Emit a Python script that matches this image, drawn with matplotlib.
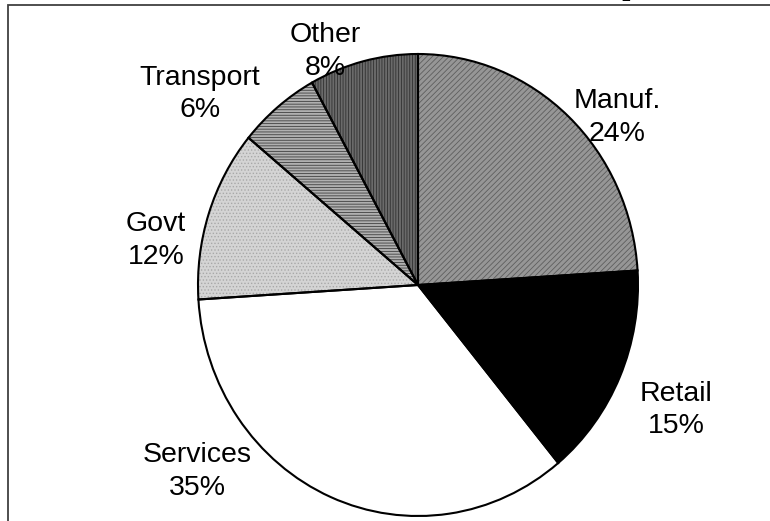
import numpy as np
import matplotlib
matplotlib.use('Agg')
import matplotlib.pyplot as plt
from matplotlib.patches import Rectangle

plt.rcParams['font.family'] = 'Liberation Sans'
plt.rcParams['hatch.linewidth'] = 0.6

# Share of workers by sector (percent)
sectors = ['Manuf.', 'Retail', 'Services', 'Govt', 'Transport', 'Other']
shares = [24, 15, 35, 12, 6, 8]

# Fill styles for the grey-scale wedges
face_colors = ['#969696', '#000000', '#ffffff', '#d4d4d4', '#b0b0b0', '#6a6a6a']
hatch_colors = ['#5e5e5e', '#000000', '#ffffff', '#a8a8a8', '#404040', '#303030']
hatches = ['//////', '', '', '.....', '------', '||||||']

# Where each label block sits, in pie-radius units
label_xy = [(0.905, 0.725), (1.173, -0.541), (-1.005, -0.807),
            (-1.191, 0.193), (-0.991, 0.828), (-0.42, 1.01)]

W, H = 770, 521
fig = plt.figure(figsize=(W / 100, H / 100), dpi=100)

# Pie box: 440 px wide, 462 px tall
ax = fig.add_axes([198 / W, 5 / H, 440 / W, 462 / H])

# first pass: fills and hatching, no outlines
wedges, _ = ax.pie(shares, startangle=90, counterclock=False, colors=face_colors,
                   wedgeprops=dict(linewidth=0))
for w, h, hc in zip(wedges, hatches, hatch_colors):
    w.set_hatch(h)
    w.set_edgecolor(hc)
    w.set_linewidth(0)

# second pass: black outlines on top
ax.pie(shares, startangle=90, counterclock=False,
       wedgeprops=dict(fill=False, edgecolor='black', linewidth=1.5))

ax.set_aspect('auto')
ax.set_xlim(-1, 1)
ax.set_ylim(-1, 1)
ax.axis('off')

for name, val, (lx, ly) in zip(sectors, shares, label_xy):
    ax.text(lx, ly, f'{name}\n{val}%', ha='center', va='center',
            multialignment='center', fontsize=20.5, linespacing=1.32,
            clip_on=False)

# chart frame (runs off the right and bottom edges)
fig.add_artist(Rectangle((8 / W, -0.2), 2.0, 1.2 - 5 / H, transform=fig.transFigure,
                         fill=False, edgecolor='#404040', linewidth=1.3))

# title, mostly above the visible area
fig.text(110 / W, 1 + 5 / H, 'Share of Total Workers, Rochester Metropolitan Area, by Sector, 2000',
         fontsize=21, fontweight='bold', family='Liberation Serif',
         ha='left', va='baseline')

fig.savefig('out.png', dpi=100)
